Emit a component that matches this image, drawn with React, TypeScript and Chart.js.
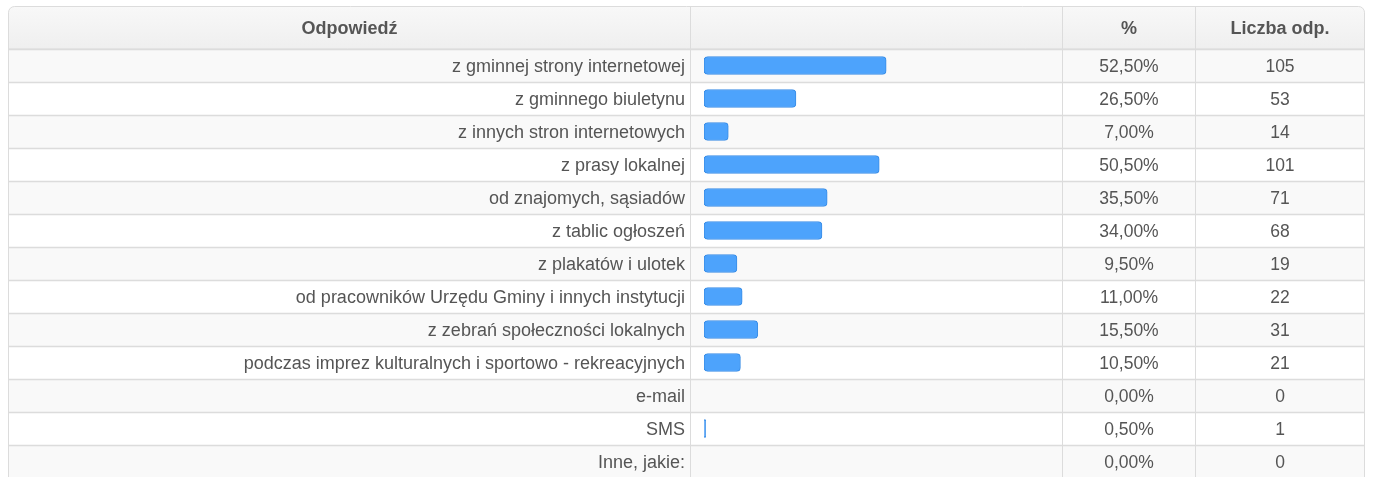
import React, { useEffect, useRef } from "react";
import { Chart, registerables } from "chart.js";

Chart.register(...registerables);

const categories = [
  "z gminnej strony internetowej",
  "z gminnego biuletynu",
  "z innych stron internetowych",
  "z prasy lokalnej",
  "od znajomych, sąsiadów",
  "z tablic ogłoszeń",
  "z plakatów i ulotek",
  "od pracowników Urzędu Gminy i innych instytucji",
  "z zebrań społeczności lokalnych",
  "podczas imprez kulturalnych i sportowo - rekreacyjnych",
  "e-mail",
  "SMS",
  "Inne, jakie:",
];
const percentValues = [52.5, 26.5, 7, 50.5, 35.5, 34, 9.5, 11, 15.5, 10.5, 0, 0.5, 0];
const counts = [105, 53, 14, 101, 71, 68, 19, 22, 31, 21, 0, 1, 0];
const headers = ["Odpowiedź", "", "%", "Liczba odp."];

const FONT = "Arial, 'Liberation Sans', sans-serif";
const TEXT = "#555555";
const LINE = "#dcdcdc";
const TABLE_LEFT = 8.5;
const TABLE_RIGHT = 1364.5;
const HEADER_TOP = 6.5;
const COLS = [690.5, 1062.5, 1195.5];
const FONT_SIZE = 17.5;
const LABEL_FONT_SIZE = 18;

const fmtPct = (v: number) => v.toFixed(2).replace(".", ",") + "%";

const tablePlugin = {
  id: "tableDecor",
  beforeDraw(chart: any) {
    const { ctx, chartArea } = chart;
    const n = categories.length;
    const band = (chartArea.bottom - chartArea.top) / n;
    const top = chartArea.top;
    ctx.save();
    for (let i = 0; i < n; i++) {
      const t = top + i * band;
      ctx.fillStyle = i % 2 === 0 ? "#f9f9f9" : "#ffffff";
      ctx.fillRect(TABLE_LEFT, t, TABLE_RIGHT - TABLE_LEFT, band);
    }
    const r = 6;
    const hb = top;
    ctx.beginPath();
    ctx.moveTo(TABLE_LEFT, hb);
    ctx.lineTo(TABLE_LEFT, HEADER_TOP + r);
    ctx.arcTo(TABLE_LEFT, HEADER_TOP, TABLE_LEFT + r, HEADER_TOP, r);
    ctx.lineTo(TABLE_RIGHT - r, HEADER_TOP);
    ctx.arcTo(TABLE_RIGHT, HEADER_TOP, TABLE_RIGHT, HEADER_TOP + r, r);
    ctx.lineTo(TABLE_RIGHT, hb);
    ctx.closePath();
    const g = ctx.createLinearGradient(0, HEADER_TOP, 0, hb);
    g.addColorStop(0, "#f8f8f8");
    g.addColorStop(1, "#efefef");
    ctx.fillStyle = g;
    ctx.fill();
    ctx.strokeStyle = LINE;
    ctx.lineWidth = 1;
    ctx.stroke();
    ctx.strokeStyle = LINE;
    ctx.lineWidth = 1.5;
    for (let i = 0; i <= n; i++) {
      const yy = Math.round(top + i * band) + 0.5;
      ctx.beginPath();
      ctx.moveTo(TABLE_LEFT, yy);
      ctx.lineTo(TABLE_RIGHT, yy);
      ctx.stroke();
    }
    ctx.lineWidth = 1;
    [TABLE_LEFT, ...COLS, TABLE_RIGHT].forEach((x) => {
      ctx.beginPath();
      ctx.moveTo(x, x === TABLE_LEFT || x === TABLE_RIGHT ? HEADER_TOP + r : HEADER_TOP);
      ctx.lineTo(x, chartArea.bottom + 5);
      ctx.stroke();
    });
    ctx.restore();
  },
  afterDraw(chart: any) {
    const { ctx, chartArea, scales } = chart;
    const y = scales.y;
    ctx.save();
    ctx.textAlign = "center";
    ctx.textBaseline = "middle";
    ctx.fillStyle = TEXT;
    const edges = [TABLE_LEFT, ...COLS, TABLE_RIGHT];
    ctx.font = "bold 18px " + FONT;
    const hy = (HEADER_TOP + chartArea.top) / 2 + 1;
    headers.forEach((h, i) => {
      if (!h) return;
      ctx.fillText(h, (edges[i] + edges[i + 1]) / 2, hy);
    });
    ctx.font = FONT_SIZE + "px " + FONT;
    categories.forEach((_, i) => {
      const py = y.getPixelForValue(i) + 1.5;
      ctx.fillText(fmtPct(percentValues[i]), (COLS[1] + COLS[2]) / 2, py);
      ctx.fillText(String(counts[i]), (COLS[2] + TABLE_RIGHT) / 2, py);
    });
    ctx.restore();
  },
};

export default function App() {
  const ref = useRef<HTMLCanvasElement>(null);
  useEffect(() => {
    if (!ref.current) return;
    const chart = new Chart(ref.current, {
      type: "bar",
      data: {
        labels: categories,
        datasets: [
          {
            data: percentValues,
            backgroundColor: (c: any) => (c.raw > 0 ? "#4da3fc" : "rgba(0,0,0,0)"),
            borderColor: (c: any) => (c.raw > 0 ? "#3a8de6" : "rgba(0,0,0,0)"),
            borderWidth: (c: any) => (c.raw > 0 ? 1 : 0),
            borderRadius: 4,
            borderSkipped: false,
            barThickness: 18,
          },
        ],
      },
      options: {
        indexAxis: "y",
        animation: false,
        responsive: false,
        layout: { padding: { left: 0, top: 49, right: 322, bottom: 0 } },
        plugins: { legend: { display: false }, tooltip: { enabled: false } },
        scales: {
          x: { display: false, min: 0, max: 100 },
          y: {
            afterFit: (s: any) => {
              s.width = 704;
              s.paddingTop = 0;
              s.paddingBottom = 0;
            },
            grid: { display: false, drawTicks: false },
            border: { display: false },
            ticks: {
              autoSkip: false,
              padding: 19,
              labelOffset: 2,
              color: TEXT,
              font: { size: LABEL_FONT_SIZE, family: FONT },
            },
          },
        },
      },
      plugins: [tablePlugin],
    } as any);
    return () => chart.destroy();
  }, []);
  return (
    <div style={{ position: "absolute", left: 0, top: 0, width: 1373, height: 477, overflow: "hidden", background: "#fff" }}>
      <canvas ref={ref} width={1373} height={478} style={{ display: "block", width: 1373, height: 478 }} />
    </div>
  );
}
